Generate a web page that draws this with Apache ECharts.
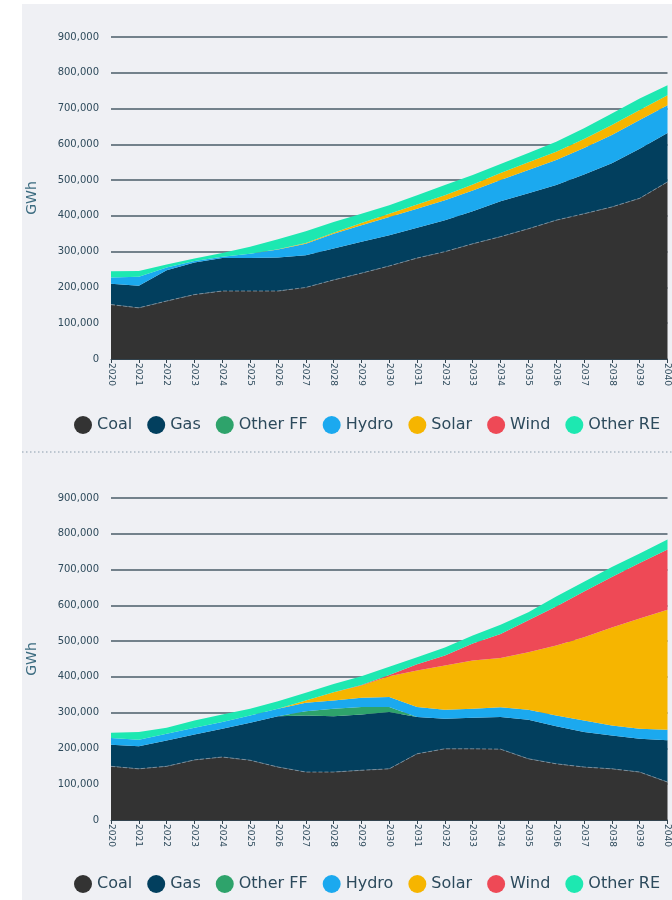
<!DOCTYPE html>
<html>
<head>
<meta charset="utf-8">
<script src="https://cdn.jsdelivr.net/npm/echarts@6/dist/echarts.min.js"></script>
<style>
html,body{margin:0;padding:0;background:#ffffff;}
#bg{position:absolute;left:22px;top:4px;width:650px;height:896px;background:#eff0f4;}
#chart{position:absolute;left:0;top:0;width:672px;height:900px;}
</style>
</head>
<body>
<div id="bg"></div>
<div id="chart"></div>
<script>
const years = ['2020','2021','2022','2023','2024','2025','2026','2027','2028','2029','2030',
               '2031','2032','2033','2034','2035','2036','2037','2038','2039','2040'];
const seriesNames = ['Coal','Gas','Other FF','Hydro','Solar','Wind','Other RE'];
const colors = ['#333333','#023f5e','#2ea36b','#1ba9ef','#f6b500','#ee4956','#1de8b1'];

// Scenario 1 (top chart), GWh
const coalA    = [152000,143000,162000,180000,190000,190000,190000,200000,221000,240000,260000,282000,300000,322000,342000,364000,388000,406000,425000,449000,495000];
const gasA     = [58000,62000,86000,90000,92000,92000,94000,90000,88000,88000,86000,85000,88000,91000,99000,99000,98000,110000,122000,139000,137000];
const otherFFA = [0,0,0,0,0,0,0,0,0,0,0,0,0,0,0,0,0,0,0,0,0];
const hydroA   = [18000,25000,8000,4000,4000,12000,22000,32000,41000,46000,51000,53000,56000,58000,59000,65000,70000,74000,79000,80000,77000];
const solarA   = [0,0,0,0,0,0,1000,2000,3000,6000,9000,12000,14000,17000,20000,22000,23000,25000,28000,28000,28000];
const windA    = [0,0,0,0,0,0,0,0,0,0,0,0,0,0,0,0,0,0,0,0,0];
const otherREA = [17000,16000,8000,7000,10000,20000,28000,33000,30000,26000,24000,26000,28000,26000,25000,26000,28000,30000,32000,32000,28000];

// Scenario 2 (bottom chart), GWh
const coalB    = [150000,143000,150000,168000,176000,167000,148000,134000,134000,139000,143000,185000,199000,199000,198000,171000,157000,148000,143000,134000,106000];
const gasB     = [60000,63000,72000,71000,79000,105000,142000,158000,156000,156000,159000,103000,84000,87000,90000,109000,105000,98000,93000,93000,117000];
const otherFFB = [0,0,0,0,0,0,0,12000,21000,21000,14000,0,0,0,0,0,0,0,0,0,0];
const hydroB   = [19000,18000,19000,19000,19000,20000,21000,24000,23000,26000,28000,28000,25000,25000,27000,28000,30000,32000,28000,28000,29000];
const solarB   = [0,0,0,0,0,0,0,6000,23000,34000,58000,102000,124000,135000,138000,161000,196000,233000,274000,308000,336000];
const windB    = [0,0,0,0,0,0,0,0,0,1000,3000,17000,28000,47000,67000,89000,109000,128000,141000,155000,168000];
const otherREB = [15000,22000,17000,20000,21000,19000,21000,22000,23000,25000,23000,20000,22000,23000,26000,23000,28000,27000,28000,27000,28000];

const dataA = [coalA,gasA,otherFFA,hydroA,solarA,windA,otherREA];
const dataB = [coalB,gasB,otherFFB,hydroB,solarB,windB,otherREB];

const FONT = '"DejaVu Sans", sans-serif';
const labelColor = '#2f4b5c';

function fmt(v){ return v.toLocaleString('en-US'); }

function makeX(gi){
  return {
    type:'category', gridIndex:gi, data:years, boundaryGap:false,
    axisLine:{show:true, lineStyle:{color:'#33444f', width:1}},
    axisTick:{show:true, length:4, lineStyle:{color:'#33444f'}},
    axisLabel:{rotate:-90, interval:0, fontSize:9, color:labelColor, fontFamily:FONT, margin:4}
  };
}
function makeY(gi){
  return {
    type:'value', gridIndex:gi, min:0, max:900000, interval:100000,
    name:'GWh', nameLocation:'middle', nameGap:72, nameRotate:90,
    nameTextStyle:{color:'#3c6c80', fontSize:14, fontFamily:FONT},
    axisLine:{show:false}, axisTick:{show:false},
    axisLabel:{formatter:fmt, fontSize:10, color:labelColor, fontFamily:FONT, margin:12},
    splitLine:{show:true, lineStyle:{color:'#4a5c68', width:1.5}}
  };
}

const series = [];
[dataA, dataB].forEach(function(ds, gi){
  ds.forEach(function(arr, i){
    series.push({
      name: seriesNames[i], type:'line', stack: 'stack'+gi,
      xAxisIndex: gi, yAxisIndex: gi,
      data: arr, symbol:'none', smooth:false,
      lineStyle: i===0 ? {color:'#8796a3', width:1, type:'dashed', opacity:0.8} : {width:0},
      areaStyle:{color:colors[i], opacity:1},
      itemStyle:{color:colors[i]},
      z: 2
    });
  });
});

function makeLegend(top){
  return {
    top: top, left: 69, width: 650, icon:'circle', itemWidth:18, itemHeight:18, itemGap:15,
    data: seriesNames,
    textStyle:{color:'#2c4a5c', fontSize:16, fontFamily:FONT}
  };
}

const chart = echarts.init(document.getElementById('chart'), null, {renderer:'canvas'});
chart.setOption({
  backgroundColor:'transparent',
  animation:false,
  color: colors,
  grid:[
    {left:111, width:557, top:37, height:322},
    {left:111, width:557, top:498, height:322}
  ],
  xAxis:[makeX(0), makeX(1)],
  yAxis:[makeY(0), makeY(1)],
  legend:[makeLegend(411), makeLegend(870)],
  graphic:[{
    type:'line', shape:{x1:22, y1:452, x2:672, y2:452},
    style:{stroke:'#8a9cac', lineWidth:1.2, lineDash:[1.5,2.5]}
  }],
  series: series
});
</script>
</body>
</html>
